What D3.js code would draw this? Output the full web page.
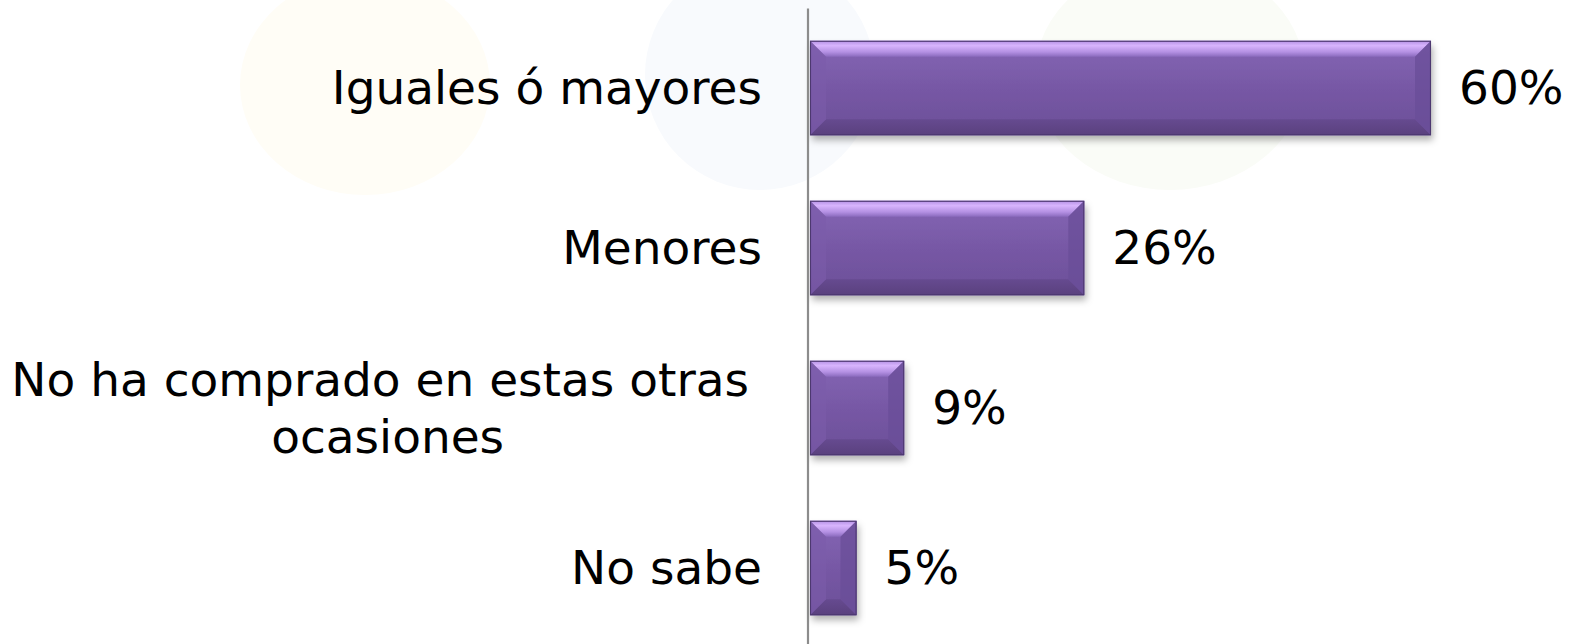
<!DOCTYPE html>
<html>
<head>
<meta charset="utf-8">
<script src="https://cdn.jsdelivr.net/npm/d3@7"></script>
<style>
  html, body { margin: 0; padding: 0; background: #ffffff; }
  svg { display: block; }
  text { font-family: "DejaVu Sans", Verdana, sans-serif; fill: #000; }
</style>
</head>
<body>
<svg id="chart" width="1576" height="644"></svg>
<script>
// ---- data ----
const categories = ["Iguales ó mayores", "Menores", "No ha comprado en estas otras ocasiones", "No sabe"];
const labelLines = [["Iguales ó mayores"], ["Menores"], ["No ha comprado en estas otras", "ocasiones"], ["No sabe"]];
const values = [60, 26.5, 9.1, 4.5];
const valueLabels = ["60%", "26%", "9%", "5%"];

// ---- layout ----
const fontSize = 47;
const svg = d3.select("#chart");

const x = d3.scaleLinear().domain([0, 60]).range([810, 1431]);
const y = d3.scaleBand().domain(categories).range([8, 648]).paddingInner(0.41).paddingOuter(0.205);

const defs = svg.append("defs");
const shadow = defs.append("filter").attr("id", "shadow")
  .attr("x", "-20%").attr("y", "-20%").attr("width", "140%").attr("height", "150%");
shadow.append("feDropShadow").attr("dx", 2).attr("dy", 5).attr("stdDeviation", 3.5)
  .attr("flood-color", "#000").attr("flood-opacity", 0.3);

const gMain = defs.append("linearGradient").attr("id", "gMain").attr("x1", 0).attr("y1", 0).attr("x2", 0).attr("y2", 1);
[[0, "#8566b5"], [0.5, "#7758a5"], [1, "#6b4e98"]].forEach(s => gMain.append("stop").attr("offset", s[0]).attr("stop-color", s[1]));
const gTop = defs.append("linearGradient").attr("id", "gTop").attr("x1", 0).attr("y1", 0).attr("x2", 0).attr("y2", 1);
[[0, "#b48fe4"], [0.3, "#d8b4fd"], [0.7, "#b490e3"], [1, "#8a6abd"]].forEach(s => gTop.append("stop").attr("offset", s[0]).attr("stop-color", s[1]));
const gBot = defs.append("linearGradient").attr("id", "gBot").attr("x1", 0).attr("y1", 0).attr("x2", 0).attr("y2", 1);
[[0, "#664a90"], [1, "#5a417e"]].forEach(s => gBot.append("stop").attr("offset", s[0]).attr("stop-color", s[1]));

// faint watermark background
const wm = svg.append("g").attr("class", "watermark");
wm.append("ellipse").attr("cx", 365).attr("cy", 85).attr("rx", 125).attr("ry", 110).attr("fill", "#fffdf6");
wm.append("ellipse").attr("cx", 760).attr("cy", 75).attr("rx", 115).attr("ry", 115).attr("fill", "#f8fafd");
wm.append("ellipse").attr("cx", 1170).attr("cy", 75).attr("rx", 135).attr("ry", 115).attr("fill", "#fafcf7");

// bars
const d = 16;
const bars = svg.append("g").attr("class", "bars");
categories.forEach((c, i) => {
  const x0 = x(0), x1 = x(values[i]);
  const y0 = y(c), y1 = y(c) + y.bandwidth();
  const bd = Math.min(d, (x1 - x0) / 2);
  const g = bars.append("g");
  g.append("rect").attr("x", x0).attr("y", y0).attr("width", x1 - x0).attr("height", y1 - y0)
    .attr("fill", "url(#gMain)").attr("filter", "url(#shadow)");
  g.append("path").attr("d", `M${x0},${y0}L${x1},${y0}L${x1 - bd},${y0 + bd}L${x0 + bd},${y0 + bd}Z`).attr("fill", "url(#gTop)");
  g.append("path").attr("d", `M${x0},${y1}L${x1},${y1}L${x1 - bd},${y1 - bd}L${x0 + bd},${y1 - bd}Z`).attr("fill", "url(#gBot)");
  g.append("path").attr("d", `M${x0},${y0}L${x0 + bd},${y0 + bd}L${x0 + bd},${y1 - bd}L${x0},${y1}Z`).attr("fill", "#7b5baa").attr("opacity", 0.6);
  g.append("path").attr("d", `M${x1},${y0}L${x1 - bd},${y0 + bd}L${x1 - bd},${y1 - bd}L${x1},${y1}Z`).attr("fill", "#6a4d98").attr("opacity", 0.75);
  g.append("rect").attr("x", x0 + 0.5).attr("y", y0 + 0.5).attr("width", x1 - x0 - 1).attr("height", y1 - y0 - 1)
    .attr("fill", "none").attr("stroke", "#4d3870").attr("stroke-width", 1.1);
});

// axis line
const axis = d3.axisLeft(y).tickSize(0).tickSizeOuter(0).tickFormat("");
const axG = svg.append("g").attr("transform", `translate(${x(0) - 2.5},0)`).call(axis);
axG.select(".domain").attr("stroke", "#8c8c8c").attr("stroke-width", 2.2);

// category labels
const labelRight = x(0) - 48;
const lineH = 57;
const labG = svg.append("g");
categories.forEach((c, i) => {
  const lines = labelLines[i];
  const cy = y(c) + y.bandwidth() / 2;
  const t = labG.append("text").attr("font-size", fontSize);
  if (lines.length === 1) {
    t.attr("x", labelRight).attr("y", cy + 16).attr("text-anchor", "end").text(lines[0]);
  } else {
    const tmp = labG.append("text").attr("font-size", fontSize);
    const widths = lines.map(l => { tmp.text(l); return tmp.node().getComputedTextLength(); });
    tmp.text("a a"); const wAA = tmp.node().getComputedTextLength();
    tmp.text("aa"); const wSpace = wAA - tmp.node().getComputedTextLength();
    tmp.remove();
    const blockW = Math.max(widths[0] + wSpace, widths[1]);
    const cx = labelRight - blockW / 2 + 2;
    const firstBase = cy + 16 - (lines.length - 1) * lineH / 2;
    lines.forEach((l, k) => {
      const lx = k === 0 ? cx - wSpace / 2 : cx;
      t.append("tspan").attr("x", lx).attr("y", firstBase + k * lineH).attr("text-anchor", "middle").text(l);
    });
  }
});

// value labels
const valG = svg.append("g");
categories.forEach((c, i) => {
  valG.append("text").attr("font-size", fontSize)
    .attr("x", x(values[i]) + 28).attr("y", y(c) + y.bandwidth() / 2 + 16)
    .text(valueLabels[i]);
});
</script>
</body>
</html>
